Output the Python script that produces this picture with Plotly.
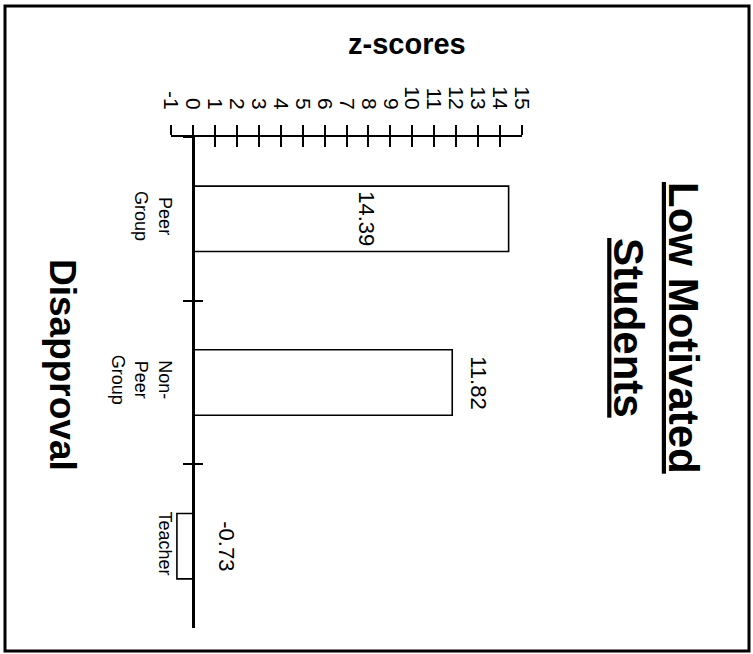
import plotly.graph_objects as go

# ---- data ----
categories = ["Peer<br>Group", "Non-<br>Peer<br>Group", "Teacher"]
z_scores = [14.39, 11.82, -0.73]
value_labels = ["14.39", "11.82", "-0.73"]
x_tick_values = [-1, 0, 1, 2, 3, 4, 5, 6, 7, 8, 9, 10, 11, 12, 13, 14, 15]
x_tick_labels = ["-1", "0", "1", "2", "3", "4", "5", "6", "7", "8", "9",
                 "10", "11", "12", "13", "14", "15"]
title_lines = ["Low Motivated", "Students"]
axis_title = "z-scores"
side_title = "Disapproval"

# ---- layout geometry (pixels) ----
W, H = 753, 654
L, R, T, B = 171, 522, 137, 628          # plot area edges
FONT = "Liberation Sans, Arial, sans-serif"


def px(xp):
    return (xp - L) / (R - L)


def py(yp):
    return (B - yp) / (B - T)


fig = go.Figure()
fig.add_trace(go.Bar(
    x=z_scores, y=categories, orientation="h", width=0.4,
    marker=dict(color="white", line=dict(color="black", width=1.6)),
    hoverinfo="skip", showlegend=False,
))
# invisible copy on overlay axes so the crossing ticks are drawn
fig.add_trace(go.Bar(
    x=z_scores, y=categories, orientation="h", width=0.4,
    xaxis="x2", yaxis="y2", opacity=0,
    hoverinfo="skip", showlegend=False,
))

zero_pos = (0 - x_tick_values[0]) / (x_tick_values[-1] - x_tick_values[0])

fig.update_layout(
    width=W, height=H,
    margin=dict(l=L, r=W - R, t=T, b=H - B, pad=0),
    paper_bgcolor="white", plot_bgcolor="white",
    font=dict(family=FONT, color="black"),
    bargap=0.6,
    xaxis=dict(
        range=[x_tick_values[0], x_tick_values[-1]], side="top",
        showline=True, linecolor="black", linewidth=2,
        ticks="outside", ticklen=10, tickwidth=2, tickcolor="black",
        tickvals=x_tick_values, ticktext=x_tick_labels,
        tickangle=90, tickfont=dict(size=21, family=FONT),
        ticklabelstandoff=8,
        showgrid=False, zeroline=False, fixedrange=True,
    ),
    xaxis2=dict(
        overlaying="x", matches="x", side="top",
        showline=False, ticks="inside", ticklen=10, tickwidth=2,
        tickcolor="black", tickvals=x_tick_values,
        showticklabels=False, showgrid=False, zeroline=False,
    ),
    yaxis=dict(
        type="category", categoryorder="array", categoryarray=categories,
        autorange="reversed", anchor="free", position=zero_pos,
        showline=True, linecolor="black", linewidth=2.5,
        ticks="outside", tickson="boundaries", ticklen=9, tickwidth=2,
        tickcolor="black", tickangle=90,
        tickfont=dict(size=18, family=FONT),
        ticklabelstandoff=12,
        showgrid=False, zeroline=False,
    ),
    yaxis2=dict(
        overlaying="y", matches="y", anchor="free", position=zero_pos,
        type="category", categoryorder="array", categoryarray=categories,
        showline=False, ticks="inside", tickson="boundaries", ticklen=9,
        tickwidth=2, tickcolor="black", showticklabels=False,
        showgrid=False, zeroline=False,
    ),
)

# value labels (rotated)
label_shift = [-142, 26, 34]
for cat, v, t, s in zip(categories, z_scores, value_labels, label_shift):
    fig.add_annotation(
        x=max(v, 0), y=cat, xref="x", yref="y", text=t, textangle=90,
        showarrow=False, xshift=s, xanchor="center", yanchor="middle",
        font=dict(size=22, family=FONT),
    )

# axis title
fig.add_annotation(
    x=px(407), y=py(44), xref="paper", yref="paper", text=axis_title,
    showarrow=False, xanchor="center", yanchor="middle",
    font=dict(size=29, family=FONT, weight="bold"),
)
# main title
fig.add_annotation(
    x=px(656), y=py(328), xref="paper", yref="paper",
    text="<br>".join("<u>" + s + "</u>" for s in title_lines),
    textangle=90, showarrow=False, xanchor="center", yanchor="middle",
    font=dict(size=42, family=FONT, weight="bold"),
)
# side title
fig.add_annotation(
    x=px(63), y=py(365), xref="paper", yref="paper", text=side_title,
    textangle=90, showarrow=False, xanchor="center", yanchor="middle",
    font=dict(size=37, family=FONT, weight="bold"),
)

# outer frame
fig.add_shape(
    type="rect", xref="paper", yref="paper",
    x0=px(5), x1=px(749), y0=py(651), y1=py(6),
    line=dict(color="black", width=3), fillcolor="rgba(0,0,0,0)",
)

fig.write_html("out.html", config={"displayModeBar": False},
               post_script="document.body.style.margin='0';")
